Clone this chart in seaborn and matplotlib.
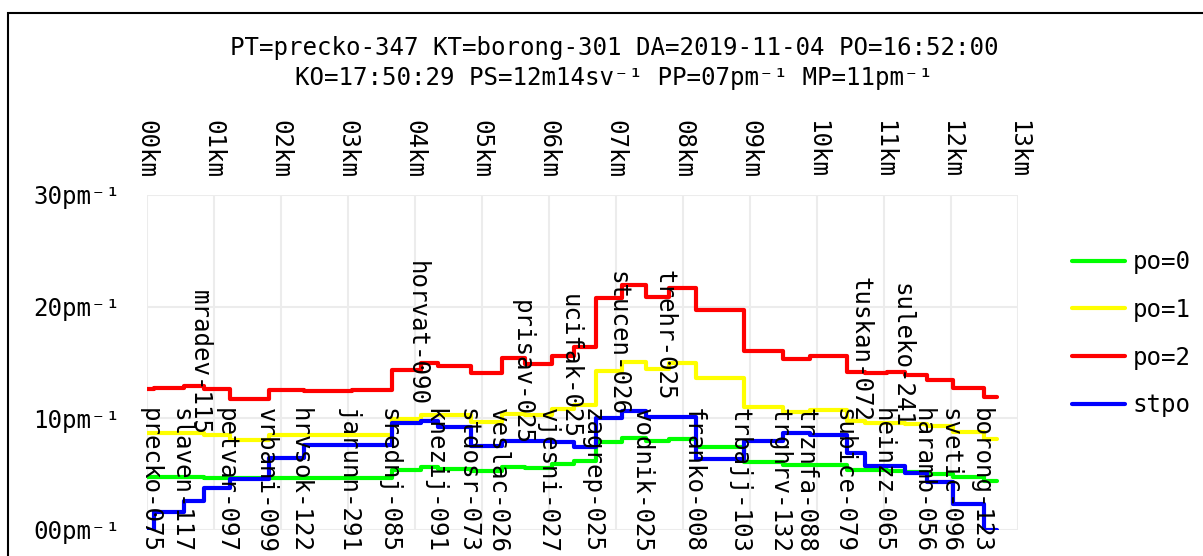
import numpy as np
import pandas as pd
import matplotlib
matplotlib.use("Agg")
import matplotlib.pyplot as plt
import matplotlib.transforms as mtransforms
import seaborn as sns
from matplotlib.patches import Rectangle

# ---------------- data ----------------
station_names = ["precko-075", "slaven-117", "mradev-115", "petvar-097", "vrbani-099",
                 "hrvsok-122", "jarunn-291", "srednj-085", "horvat-090", "knezij-091",
                 "stdosr-073", "veslac-026", "prisav-025", "vjesni-027", "ucifak-025",
                 "zagrep-025", "stucen-026", "vodnik-025", "trehr-025", "franko-008",
                 "trbajj-103", "trghrv-132", "trznfa-088", "subice-079", "tuskan-072",
                 "heinzz-065", "suleko-241", "haramb-056", "svetic-096", "borong-123"]
station_km = [0.11, 0.56, 0.85, 1.24, 1.83, 2.35, 3.06, 3.66, 4.09, 4.35,
              4.84, 5.30, 5.65, 6.05, 6.37, 6.70, 7.09, 7.45, 7.79, 8.20,
              8.91, 9.50, 9.89, 10.45, 10.71, 11.04, 11.32, 11.64, 12.03, 12.50]
route_start_km = 0.0
route_end_km = 12.68

# values per interval: [start,first station], between stations..., [last station,end]
po0 = [4.79, 4.79, 4.79, 4.64, 4.64, 4.64, 4.64, 4.64, 5.39, 5.65, 5.48, 5.29,
       5.68, 5.53, 5.93, 6.22, 7.86, 8.24, 7.95, 8.16, 7.41, 6.07, 5.80, 5.82,
       5.36, 5.33, 5.30, 5.18, 5.03, 4.76, 4.43]
po1 = [8.70, 8.70, 8.70, 8.55, 8.07, 8.52, 8.52, 8.55, 9.90, 10.28, 10.28, 9.65,
       10.35, 10.33, 10.80, 11.20, 14.28, 15.08, 14.43, 14.93, 13.60, 11.03, 10.55, 10.72,
       9.74, 9.60, 9.56, 9.50, 9.30, 8.76, 8.16]
po2 = [12.62, 12.72, 12.88, 12.64, 11.75, 12.55, 12.43, 12.55, 14.35, 15.00, 14.65, 14.05,
       15.42, 14.88, 15.62, 16.37, 20.75, 21.95, 20.84, 21.65, 19.71, 16.07, 15.33, 15.58,
       14.13, 14.08, 14.15, 13.92, 13.45, 12.72, 11.89]
stpo = [0.00, 1.65, 2.60, 3.72, 4.60, 6.45, 7.65, 7.65, 9.58, 9.80, 9.20, 7.53,
        8.01, 8.00, 7.88, 7.40, 10.00, 10.70, 10.10, 10.10, 6.33, 7.93, 8.67, 8.50,
        6.93, 5.73, 5.73, 5.09, 4.32, 2.37, 0.00]

series_names = ["po=0", "po=1", "po=2", "stpo"]
series_colors = ["#00ff00", "#ffff00", "#ff0000", "#0000ff"]

x_ticks = list(range(0, 14))
x_tick_labels = [f"{k:02d}km" for k in x_ticks]
y_ticks = [0, 10, 20, 30]
y_tick_labels = ["00pm⁻¹", "10pm⁻¹", "20pm⁻¹", "30pm⁻¹"]

title_line1 = "PT=precko-347 KT=borong-301 DA=2019-11-04 PO=16:52:00"
title_line2 = "KO=17:50:29 PS=12m14sv⁻¹ PP=07pm⁻¹ MP=11pm⁻¹"

# label layout: top of each (vertical) station label, in y units
label_low = 10.95
label_raised = {"mradev-115": 21.53, "horvat-090": 24.06, "prisav-025": 20.6,
                "ucifak-025": 21.15, "stucen-026": 23.17, "trehr-025": 23.3,
                "tuskan-072": 22.63, "suleko-241": 22.1}

# ---------------- build long table ----------------
edges = [route_start_km] + station_km + [route_end_km]
rows = []
for name, vals in zip(series_names, [po0, po1, po2, stpo]):
    ys = vals + [vals[-1]]
    for xk, yv in zip(edges, ys):
        rows.append({"km": xk, "val": yv, "series": name})
df = pd.DataFrame(rows)

# ---------------- plot ----------------
sns.set_style("white")
mono = ["DejaVu Sans Mono", "DejaVu Sans"]
plt.rcParams["font.family"] = mono
plt.rcParams["text.color"] = "black"
plt.rcParams["xtick.color"] = "black"
plt.rcParams["ytick.color"] = "black"
plt.rcParams["xtick.labelcolor"] = "black"
plt.rcParams["ytick.labelcolor"] = "black"
FS = 17.4

fig = plt.figure(figsize=(12.03, 5.56), dpi=100)
ax = fig.add_axes([146.7 / 1203, 26 / 556, (1018 - 146.7) / 1203, (530 - 195) / 556])

sns.lineplot(data=df, x="km", y="val", hue="series", hue_order=series_names,
             palette=dict(zip(series_names, series_colors)), drawstyle="steps-post",
             linewidth=3.0, estimator=None, sort=False, ax=ax)

ax.set_xlim(0, 13)
ax.set_ylim(0, 30)
ax.set_xticks(x_ticks)
ax.set_xticklabels(x_tick_labels, rotation=-90, fontsize=FS, color="black")
ax.set_yticks(y_ticks)
ax.set_yticklabels(y_tick_labels, fontsize=FS, color="black")
ax.xaxis.tick_top()
ax.tick_params(axis="x", length=0, pad=12)
ax.tick_params(axis="y", length=0, pad=19)
ax.set_xlabel("")
ax.set_ylabel("")
for s in ax.spines.values():
    s.set_visible(False)
ax.grid(True, color="#ececec", linewidth=1.5)
ax.set_axisbelow(True)

label_trans = mtransforms.offset_copy(ax.transData, fig=fig, x=-4, y=0, units="dots")
for name, xk in zip(station_names, station_km):
    ytop = label_raised.get(name, label_low)
    ax.text(xk, ytop, name, rotation=-90, ha="center", va="top", transform=label_trans,
            fontsize=FS, color="black", clip_on=False)

sns.move_legend(ax, "upper left", bbox_to_anchor=(1.037, 0.90), frameon=False,
                title=None, fontsize=FS, handlelength=2.2, handletextpad=0.3,
                labelspacing=0.98)
for t in ax.get_legend().get_texts():
    t.set_color("black")

fig.text(614 / 1203, 1 - 48 / 556, title_line1, ha="center", va="center", fontsize=FS, color="black")
fig.text(614 / 1203, 1 - 78 / 556, title_line2, ha="center", va="center", fontsize=FS, color="black")

fig.patches.append(Rectangle((7.7 / 1203, -0.2), 1.2, 1.2 - 12.7 / 556,
                             transform=fig.transFigure, fill=False,
                             edgecolor="black", linewidth=1.5))

fig.savefig("out.png", dpi=100)
